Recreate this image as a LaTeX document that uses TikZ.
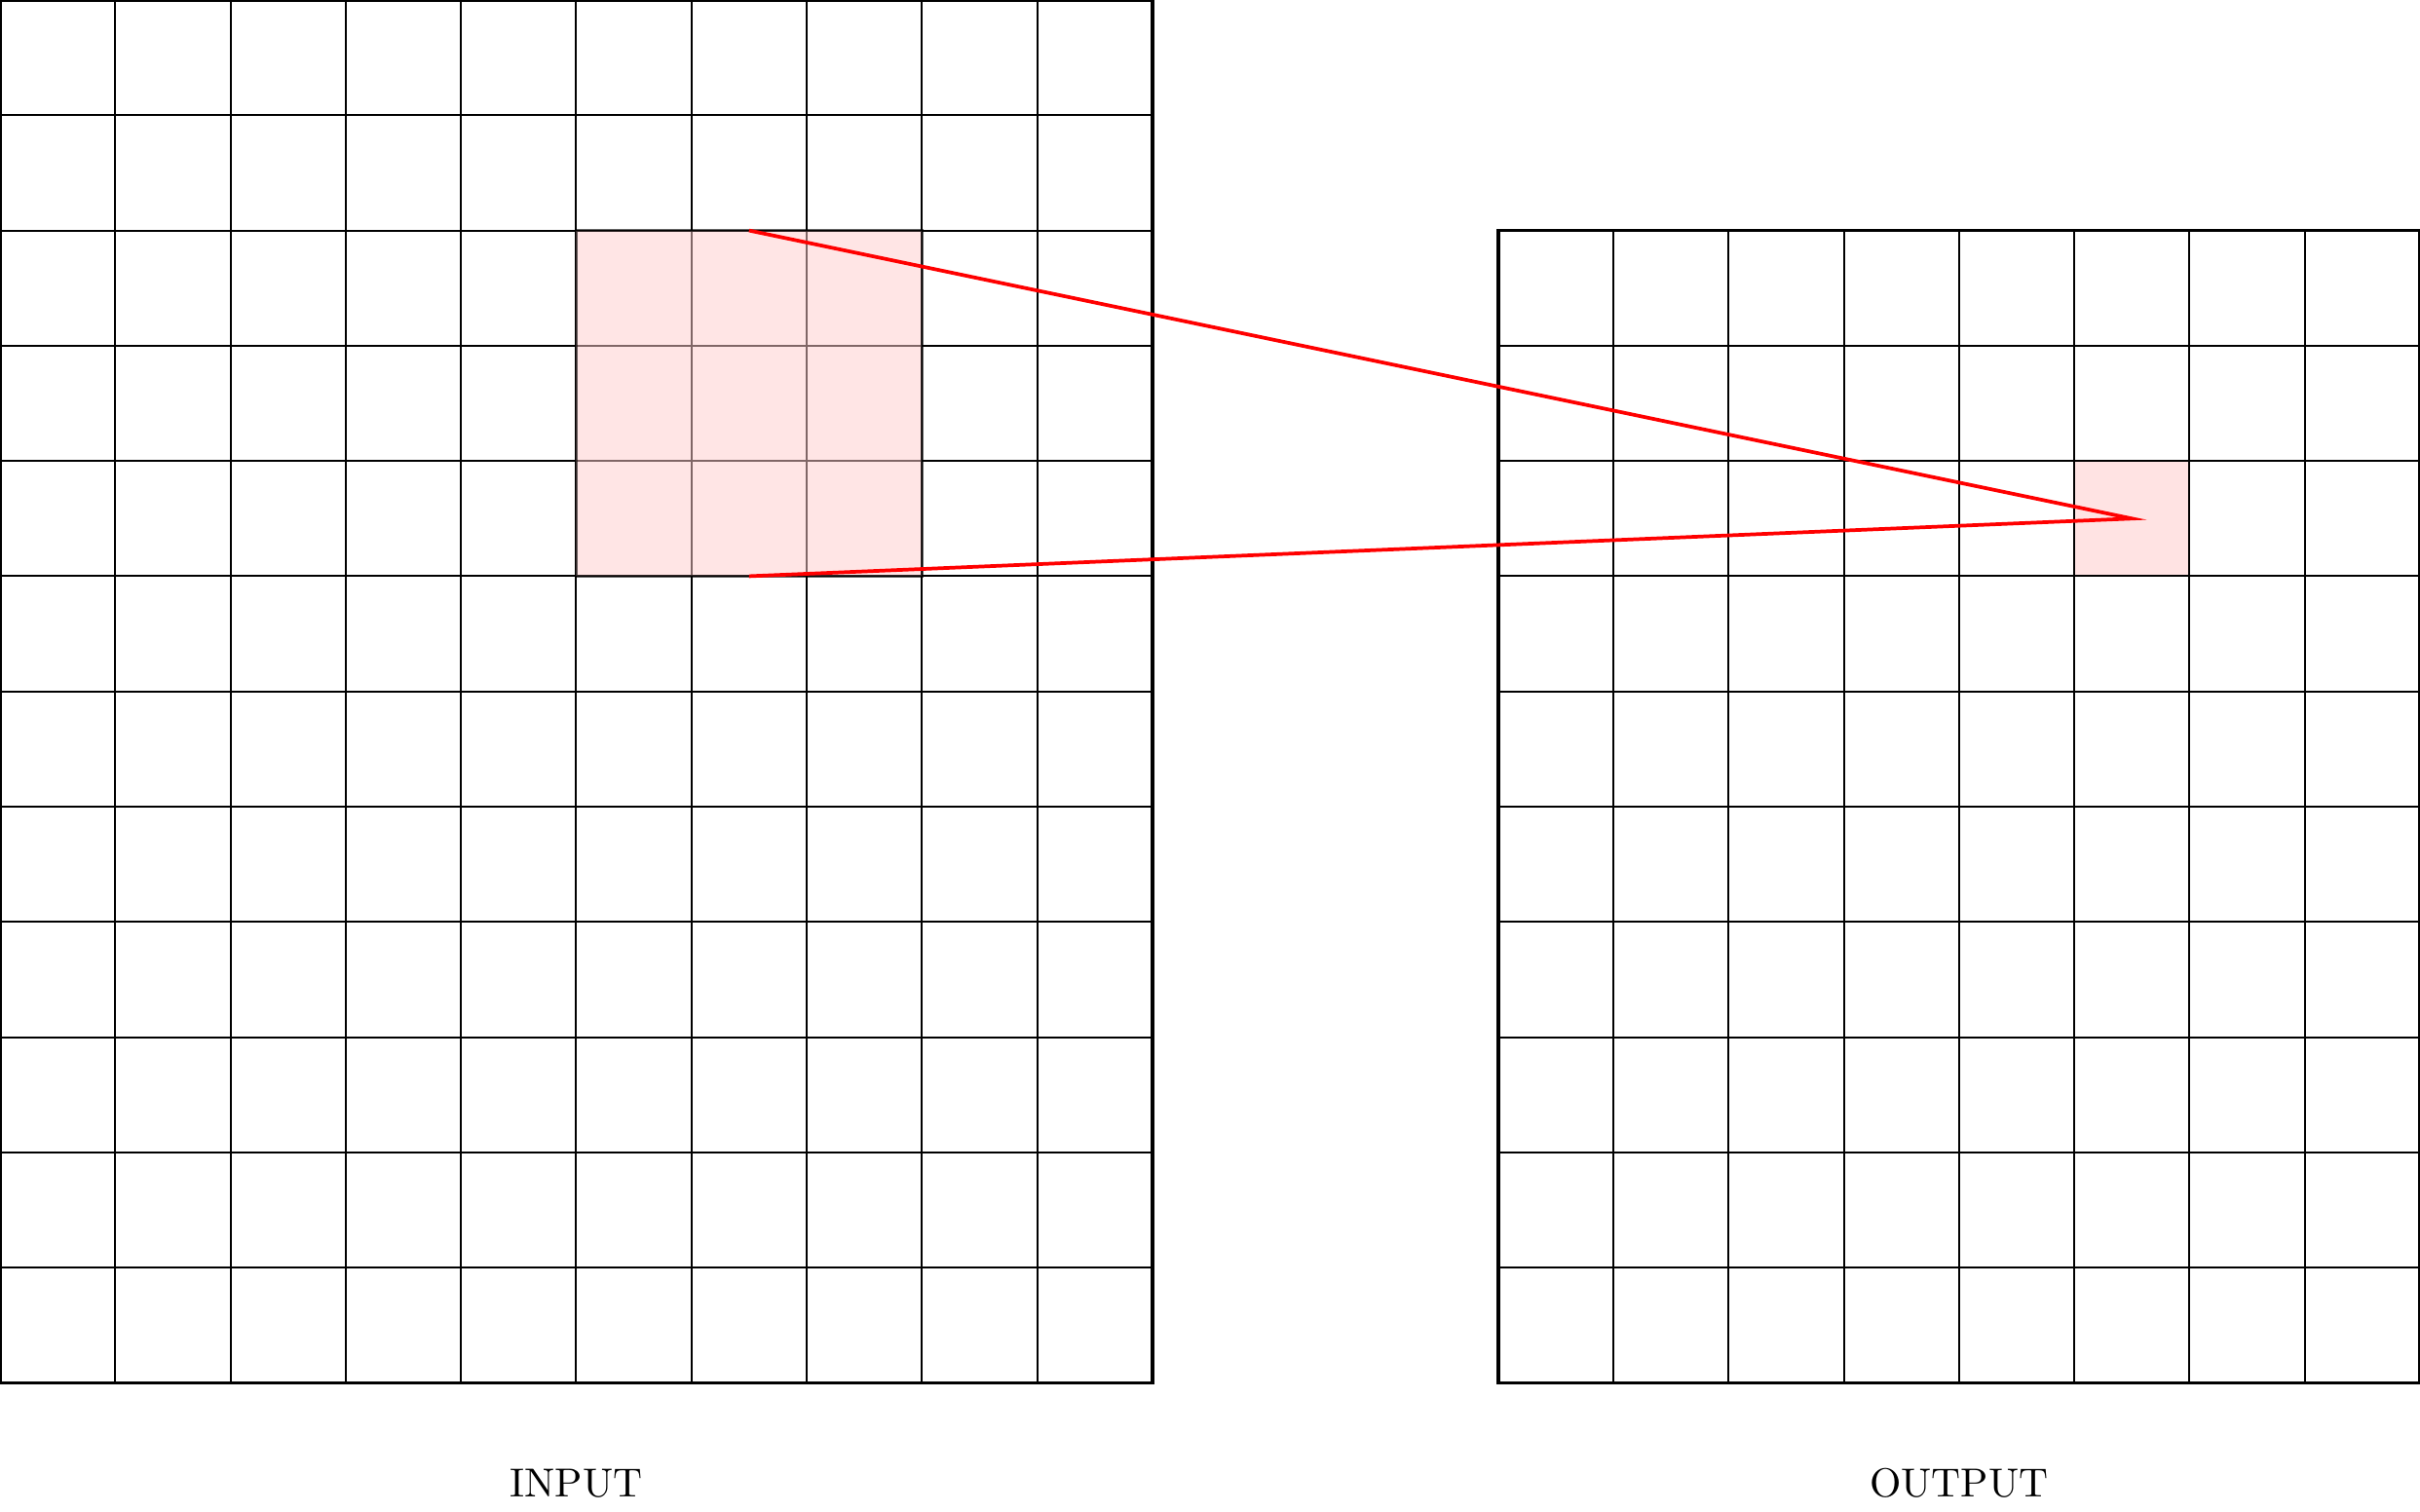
\documentclass[tikz,border=0pt]{standalone}
\begin{document}
\begin{tikzpicture}[
  gridline/.style={line width=0.5pt, black},
  frame/.style={line width=0.9pt, black},
  patch/.style={fill=red!20, draw=black, line width=0.6pt, opacity=0.5},
  cellhl/.style={fill=red!20, opacity=0.5},
  link/.style={red, line width=0.9pt},
  label/.style={anchor=base, font=\normalsize}
]
\useasboundingbox (0,0) rectangle (21,-13.113);
% input grid 10 x 12
\draw[gridline] (0,-12) grid (10,0);
\draw[frame] (0,-12) rectangle (10,0);
\fill[cellhl] (5,-5) rectangle (8,-2);
\draw[black, line width=0.6pt, opacity=0.6] (5,-5) rectangle (8,-2);
% output grid 8 x 10
\fill[red!20, opacity=0.55] (18,-5) rectangle (19,-4);
\draw[gridline] (13,-12) grid (21,-2);
\draw[frame] (13,-12) rectangle (21,-2);
% named points
\coordinate (pt) at (6.5,-2);
\coordinate (pb) at (6.5,-5);
\coordinate (oc) at (18.5,-4.5);
\draw[link] (pt) -- (oc) -- (pb);
\node[label] (in) at (5,-12.99) {INPUT};
\node[label] (out) at (17,-12.99) {OUTPUT};
\end{tikzpicture}
\end{document}
